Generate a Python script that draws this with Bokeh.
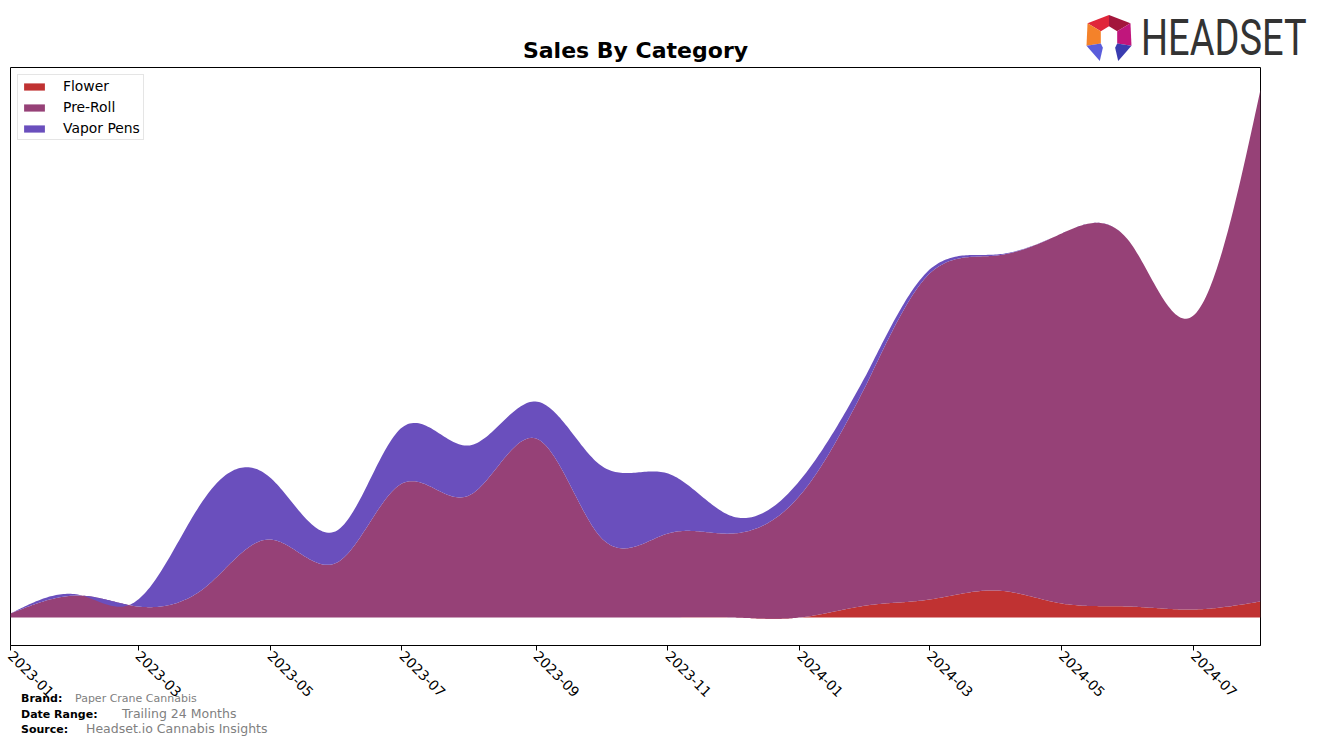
import numpy as np
from bokeh.plotting import figure
from bokeh.layouts import column
from bokeh.models import Range1d, Div, MonthsTicker, DatetimeTickFormatter
from bokeh.embed import file_html
from bokeh.resources import INLINE

# ---------------- data (monthly) ----------------
months = ["2023-01", "2023-02", "2023-03", "2023-04", "2023-05", "2023-06",
          "2023-07", "2023-08", "2023-09", "2023-10", "2023-11", "2023-12",
          "2024-01", "2024-02", "2024-03", "2024-04", "2024-05", "2024-06",
          "2024-07", "2024-08"]
flower = [0, 0, 0, 0, 0, 0, 0, 0, 0, 0, 0, 0, 0, 12, 18, 27, 14, 11, 8, 16]
pre_roll = [4, 22, 11, 30, 78, 55, 134, 122, 179, 80, 84, 84, 122, 222, 326, 335, 370, 366, 294, 512]
vapor_pens = [0, 1, 7, 90, 62, 32, 56, 50, 37, 72, 60, 17, 15, 10, 4, 1, 0, 0, 0, 0]
categories = ["Flower", "Pre-Roll", "Vapor Pens"]
colors = ["#c03232", "#964177", "#6a4fbd"]

brand = "Paper Crane Cannabis"
date_range = "Trailing 24 Months"
source = "Headset.io Cannabis Insights"

FONT = "DejaVu Sans"
W, H = 1320, 742


def spline(t, y, tt):
    """natural cubic spline, used only to draw a smooth outline"""
    t = np.asarray(t, float)
    y = np.asarray(y, float)
    n = len(t)
    h = np.diff(t)
    A = np.zeros((n, n))
    r = np.zeros(n)
    A[0, 0] = 1
    A[-1, -1] = 1
    for i in range(1, n - 1):
        A[i, i - 1] = h[i - 1]
        A[i, i] = 2 * (h[i - 1] + h[i])
        A[i, i + 1] = h[i]
        r[i] = 3 * ((y[i + 1] - y[i]) / h[i] - (y[i] - y[i - 1]) / h[i - 1])
    c = np.linalg.solve(A, r)
    b = (y[1:] - y[:-1]) / h - h * (2 * c[:-1] + c[1:]) / 3
    d = (c[1:] - c[:-1]) / (3 * h)
    idx = np.clip(np.searchsorted(t, tt, side="right") - 1, 0, n - 2)
    dx = tt - t[idx]
    return y[idx] + b[idx] * dx + c[idx] * dx ** 2 + d[idx] * dx ** 3


dates = np.array([np.datetime64(m + "-01") for m in months])
ms = dates.astype("datetime64[ms]").astype(np.int64).astype(float)
t = np.arange(len(months), dtype=float)
tt = np.linspace(0, len(months) - 1, 700)
xx = np.interp(tt, t, ms)

series = [flower, pre_roll, vapor_pens]
smooth = [spline(t, s, tt) for s in series]

p = figure(width=W, height=H, x_axis_type="datetime",
           output_backend="svg", toolbar_location=None,
           min_border_left=10, min_border_right=60, min_border_top=67, min_border_bottom=97)
p.x_range = Range1d(ms[0], ms[-1])
p.y_range = Range1d(-28, 550)

base = np.zeros_like(tt)
for name, col, s in zip(categories, colors, smooth):
    top = base + s
    p.varea(x=xx, y1=base, y2=top, fill_color=col, fill_alpha=1.0, legend_label=name)
    base = top

# axes / frame
p.yaxis.visible = False
p.xgrid.visible = False
p.ygrid.visible = False
p.outline_line_color = "black"
p.outline_line_width = 1
p.outline_line_alpha = 1
p.xaxis.ticker = MonthsTicker(months=[0, 2, 4, 6, 8, 10])
p.xaxis.formatter = DatetimeTickFormatter(months="%Y-%m", days="%Y-%m", years="%Y-%m")
p.xaxis.major_label_orientation = -np.pi / 4
p.xaxis.major_label_text_font = FONT
p.xaxis.major_label_text_font_size = "13.9px"
p.xaxis.major_label_text_color = "black"
p.xaxis.major_tick_out = 5
p.xaxis.major_tick_in = 0
p.xaxis.minor_tick_line_color = None
p.xaxis.axis_line_color = "black"
p.xaxis.major_label_standoff = 3

# title
p.title.text = "Sales By Category"
p.title.align = "center"
p.title.text_font = FONT
p.title.text_font_size = "22px"
p.title.text_font_style = "bold"
p.title.text_color = "black"

# legend
lg = p.legend[0]
lg.location = "top_left"
lg.margin = 7
lg.padding = 3
lg.spacing = 5
lg.glyph_width = 26
lg.glyph_height = 9
lg.label_height = 14
lg.label_standoff = 16
lg.label_text_font = FONT
lg.label_text_font_size = "13.9px"
lg.label_text_color = "black"
lg.border_line_color = "#cccccc"
lg.border_line_width = 1
lg.background_fill_alpha = 0.8

# overlay: logo + footer (HTML decoration positioned over the figure's border area)
logo_svg = (
    '<svg style="position:absolute;left:1086px;top:15px" width="46" height="46" viewBox="0 0 44 45">'
    '<polygon points="22,0 22,11 14,16 1,8" fill="#e0263a"/>'
    '<polygon points="22,0 43,8 30,16 22,11" fill="#a3163c"/>'
    '<polygon points="1,8 14,16 14,28 0,30" fill="#f4822a"/>'
    '<polygon points="43,8 44,30 30,28 30,16" fill="#c0167c"/>'
    '<polygon points="0,30 14,28 16,32 13,45" fill="#5a5ddb"/>'
    '<polygon points="44,30 30,28 28,32 31,45" fill="#3a3cb0"/>'
    '</svg>'
)


def span(txt, left, top, size, bold=False, color="black", font=FONT, extra=""):
    return (f'<span style="position:absolute;left:{left}px;top:{top}px;font-family:\'{font}\';'
            f'font-size:{size}px;line-height:1;white-space:nowrap;color:{color};'
            f'font-weight:{"bold" if bold else "normal"};{extra}">{txt}</span>')


html = (
    f'<div style="position:relative;width:{W}px;height:{H}px;pointer-events:none;">'
    + logo_svg
    + span("HEADSET", 1141, 13, 50, color="#333333", font="Roboto",
           extra="transform:scaleX(0.76);transform-origin:left top;")
    + span("Brand:", 21, 693, 11, bold=True)
    + span(brand, 75, 693, 11, color="#808080")
    + span("Date Range:", 21, 709, 11, bold=True)
    + span(date_range, 122, 708, 12.5, color="#808080")
    + span("Source:", 21, 724, 11, bold=True)
    + span(source, 86, 723, 12.5, color="#808080")
    + '</div>'
)
overlay = Div(text=html, width=W, height=H, margin=(-H, 0, 0, 0))

layout = column(p, overlay, spacing=0)
open("out.html", "w").write(file_html(layout, INLINE))
